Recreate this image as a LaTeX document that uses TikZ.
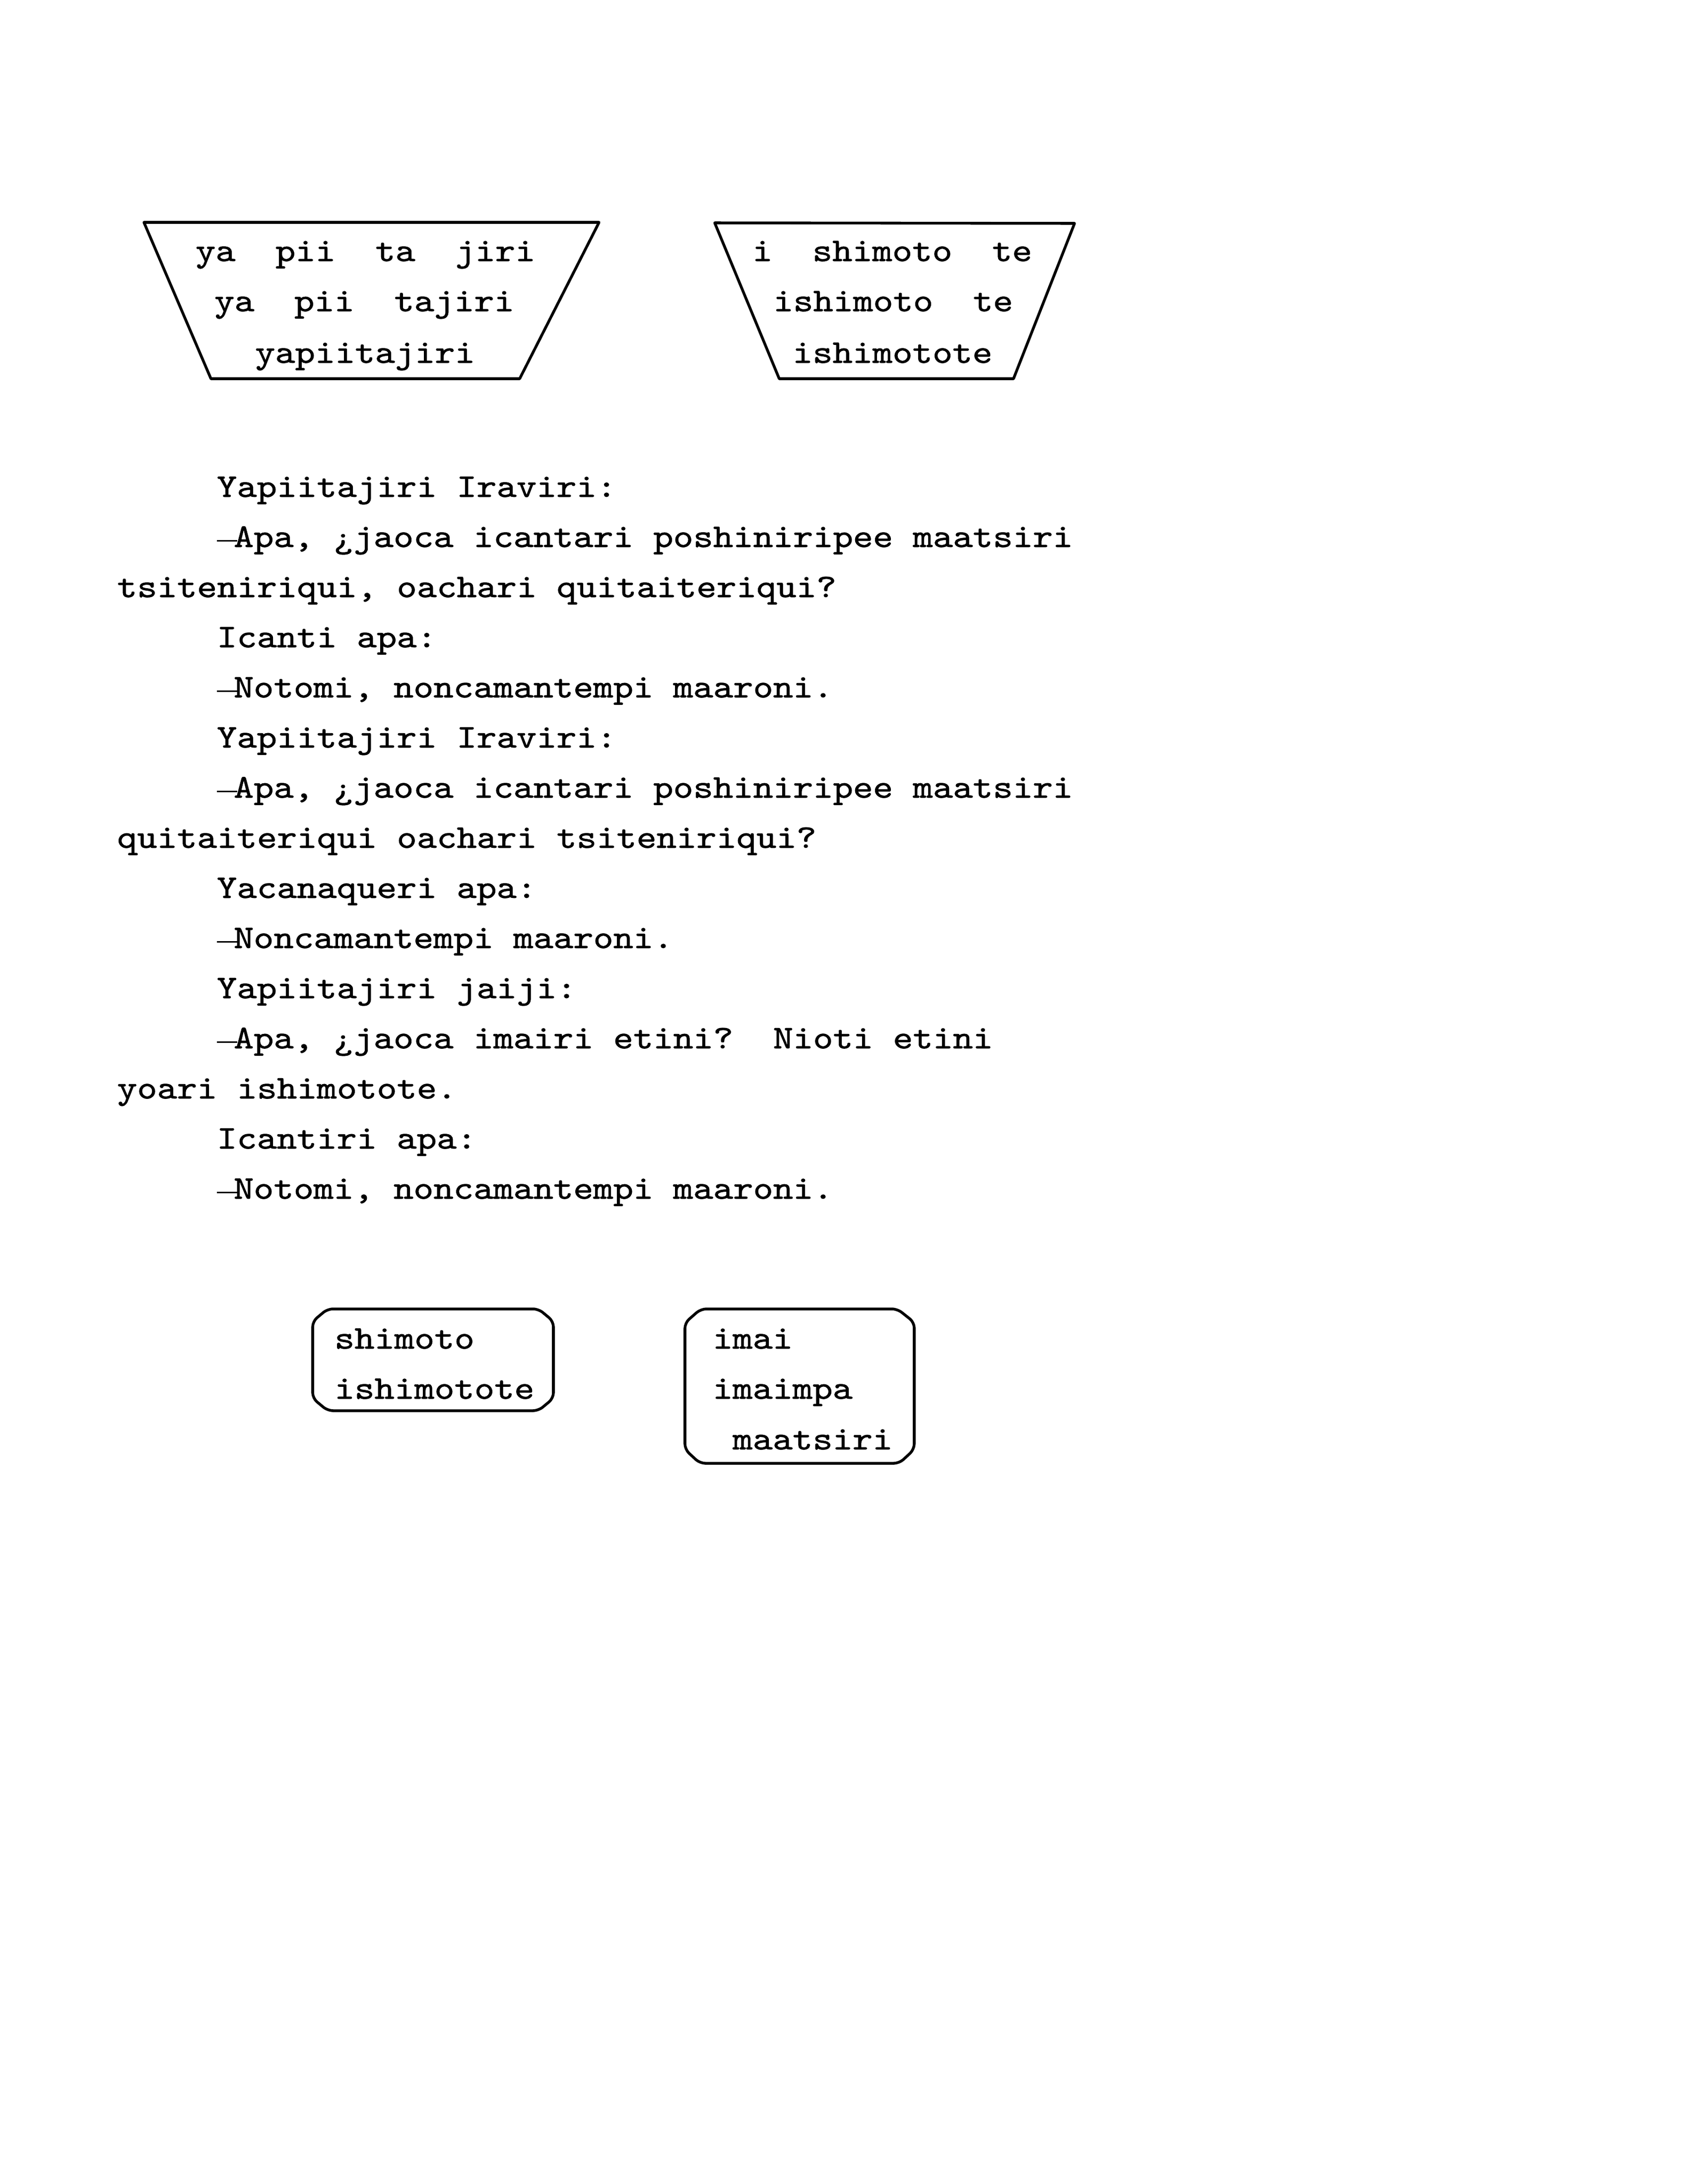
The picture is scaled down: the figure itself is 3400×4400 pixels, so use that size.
\documentclass[tikz,border=0pt]{standalone}
\usepackage{fontspec}
\newfontfamily\tw{lmmono10-regular.otf}[FakeStretch=1.15,FakeBold=1.2]
\tikzset{
  tx/.style={anchor=base west, inner sep=0pt, font=\tw\fontsize{12}{14}\selectfont\frenchspacing},
  ln/.style={line width=1pt, line join=round},
  bx/.style={line width=1pt, rounded corners=2pt}
}
\newcommand{\dsh}{\makebox[6.1pt][l]{\rule[2pt]{7.4pt}{0.6pt}}}
\begin{document}
\begin{tikzpicture}[x=0.18pt,y=-0.18pt]
\useasboundingbox (0,0) rectangle (3400,4400);
% trapezoid 1
\draw[ln] (290,448) -- (1207,448) -- (1047,763) -- (425,763) -- cycle;
\node[tx] (a1) at (393,526) {ya~~pii~~ta~~jiri};
\node[tx] (a2) at (431,627) {ya~~pii~~tajiri};
\node[tx] (a3) at (513,731) {yapiitajiri};
% trapezoid 2
\draw[ln] (1440,449) -- (2165,450) -- (2042,763) -- (1570,763) -- cycle;
\node[tx] (b1) at (1515,526) {i~~shimoto~~te};
\node[tx] (b2) at (1557,627) {ishimoto~~te};
\node[tx] (b3) at (1596,731) {ishimotote};
% main text
\node[tx] (l0)  at (436,1001) {Yapiitajiri Iraviri:};
\node[tx] (l1)  at (436,1102) {\dsh Apa, ¿jaoca icantari poshiniripee maatsiri};
\node[tx] (l2)  at (235,1203) {tsiteniriqui, oachari quitaiteriqui?};
\node[tx] (l3)  at (436,1304) {Icanti apa:};
\node[tx] (l4)  at (436,1405) {\dsh Notomi, noncamantempi maaroni.};
\node[tx] (l5)  at (436,1506) {Yapiitajiri Iraviri:};
\node[tx] (l6)  at (436,1607) {\dsh Apa, ¿jaoca icantari poshiniripee maatsiri};
\node[tx] (l7)  at (235,1708) {quitaiteriqui oachari tsiteniriqui?};
\node[tx] (l8)  at (436,1809) {Yacanaqueri apa:};
\node[tx] (l9)  at (436,1910) {\dsh Noncamantempi maaroni.};
\node[tx] (l10) at (436,2011) {Yapiitajiri jaiji:};
\node[tx] (l11) at (436,2112) {\dsh Apa, ¿jaoca imairi etini?~~Nioti etini};
\node[tx] (l12) at (235,2213) {yoari ishimotote.};
\node[tx] (l13) at (436,2314) {Icantiri apa:};
\node[tx] (l14) at (436,2415) {\dsh Notomi, noncamantempi maaroni.};
% box 1
\draw[bx] (660,2637) -- (1085,2637) -- (1115,2662) -- (1115,2817) -- (1085,2842) -- (660,2842) -- (630,2817) -- (630,2662) -- cycle;
\node[tx] (c1) at (673,2717) {shimoto};
\node[tx] (c2) at (673,2818) {ishimotote};
% box 2
\draw[bx] (1412,2637) -- (1808,2637) -- (1842,2664) -- (1842,2920) -- (1812,2948) -- (1410,2948) -- (1380,2920) -- (1380,2665) -- cycle;
\node[tx] (d1) at (1435,2717) {imai};
\node[tx] (d2) at (1435,2818) {imaimpa};
\node[tx] (d3) at (1435,2920) {~maatsiri};
\end{tikzpicture}
\end{document}
